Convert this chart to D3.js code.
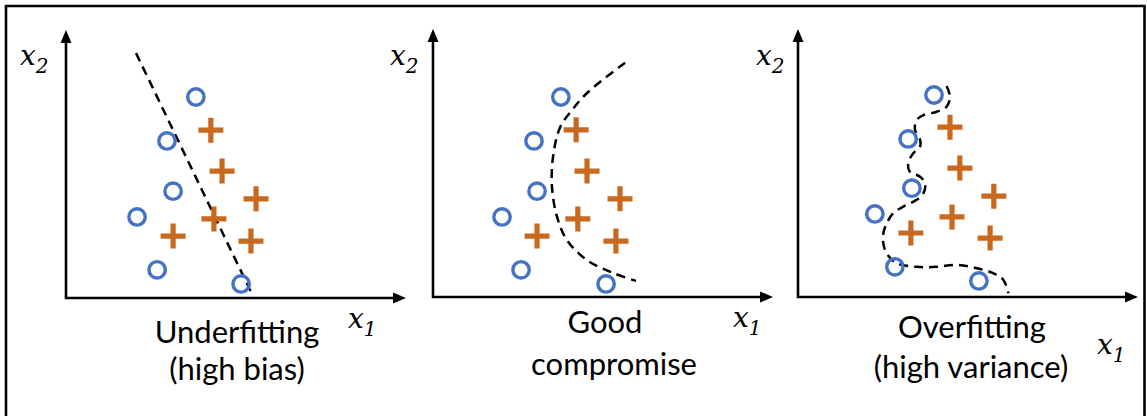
<!DOCTYPE html>
<html>
<head>
<meta charset="utf-8">
<script src="https://cdn.jsdelivr.net/npm/d3@7"></script>
<style>
  html, body { margin: 0; padding: 0; background: #fff; }
  svg { display: block; }
</style>
</head>
<body>
<svg id="chart" width="1147" height="416"></svg>
<script>
// ---- data (axis units: x 0..10, y 0..8) ----
const captionLines1 = ["Underfitting", "(high bias)"];
const captionLines2 = ["Good", "compromise"];
const captionLines3 = ["Overfitting", "(high variance)"];

const circles1 = [[3.82,6.0],[2.97,4.69],[3.15,3.19],[2.09,2.42],[2.68,0.84],[5.15,0.42]];
const pluses1  = [[4.26,5.01],[4.59,3.79],[5.59,2.96],[4.35,2.36],[3.15,1.85],[5.44,1.70]];
const boundary1 = [[2.06,7.31],[5.47,0.12]];

const circles2 = [[3.76,5.97],[2.97,4.66],[3.06,3.16],[2.03,2.39],[2.59,0.81],[5.09,0.39]];
const pluses2  = [[4.21,4.99],[4.53,3.76],[5.50,2.93],[4.26,2.33],[3.06,1.82],[5.38,1.67]];
const boundary2 = [[5.65,6.99],[4.53,6.09],[4.09,5.58],[3.74,5.07],[3.53,4.18],[3.50,3.28],
                   [3.65,2.39],[3.94,1.70],[4.53,1.10],[5.29,0.72],[5.97,0.48]];

const circles3 = [[4.0,6.03],[3.24,4.72],[3.35,3.25],[2.26,2.48],[2.85,0.90],[5.32,0.48]];
const pluses3  = [[4.47,5.07],[4.76,3.85],[5.76,3.01],[4.53,2.39],[3.32,1.91],[5.65,1.76]];
const boundary3 = [[4.37,6.30],[4.47,5.98],[4.37,5.68],[4.08,5.53],[3.69,5.43],[3.49,5.28],
                   [3.44,4.99],[3.59,4.69],[3.59,4.49],[3.39,4.29],[3.24,3.99],[3.29,3.74],
                   [3.59,3.59],[3.74,3.39],[3.69,3.10],[3.49,2.90],[3.10,2.70],[2.80,2.50],
                   [2.61,2.20],[2.51,1.90],[2.51,1.60],[2.61,1.30],[2.90,1.01],[3.49,0.90],
                   [4.08,0.90],[4.67,0.96],[5.26,0.86],[5.74,0.71],[6.04,0.51],[6.19,0.11]];

const xDomain = [0, 10];
const yDomain = [0, 8];

// ---- layout ----
const panels = [
  { ox: 66,  oy: 298, circles: circles1, pluses: pluses1, boundary: boundary1, curve: d3.curveLinear,
    caption: captionLines1, capX: [237, 237], capY: [343, 380],
    x2: [20, 65], x1: [348, 328] },
  { ox: 433, oy: 297, circles: circles2, pluses: pluses2, boundary: boundary2, curve: d3.curveCatmullRom,
    caption: captionLines2, capX: [605, 614], capY: [333, 375],
    x2: [390, 65], x1: [733, 327] },
  { ox: 798, oy: 297, circles: circles3, pluses: pluses3, boundary: boundary3, curve: d3.curveCatmullRom,
    caption: captionLines3, capX: [972, 971], capY: [338, 378],
    x2: [756, 65], x1: [1097, 354] }
];

const BLUE = "#4472C4";
const ORANGE = "#C9691F";

const svg = d3.select("#chart");

// outer frame
svg.append("path")
  .attr("d", "M6,420 L6,6 L1144.5,6 L1144.5,420")
  .attr("fill", "none").attr("stroke", "#000").attr("stroke-width", 2.6);

panels.forEach(p => {
  const x = d3.scaleLinear().domain(xDomain).range([p.ox, p.ox + 340]);
  const y = d3.scaleLinear().domain(yDomain).range([p.oy, p.oy - 268]);
  const g = svg.append("g");

  // axes
  const x0 = x(0), y0 = y(0), xEnd = x(10), yEnd = y(8);
  g.append("path")
    .attr("d", `M${x0},${yEnd + 10} L${x0},${y0} L${xEnd - 10},${y0}`)
    .attr("fill", "none").attr("stroke", "#000").attr("stroke-width", 2.6);
  g.append("path")
    .attr("d", `M${x0},${yEnd} L${x0 - 5.5},${yEnd + 13} L${x0 + 5.5},${yEnd + 13} Z`)
    .attr("fill", "#000");
  g.append("path")
    .attr("d", `M${xEnd},${y0} L${xEnd - 13},${y0 - 5.5} L${xEnd - 13},${y0 + 5.5} Z`)
    .attr("fill", "#000");

  // boundary
  g.append("path")
    .datum(p.boundary)
    .attr("d", d3.line().x(d => x(d[0])).y(d => y(d[1])).curve(p.curve))
    .attr("fill", "none").attr("stroke", "#000").attr("stroke-width", 2.5)
    .attr("stroke-dasharray", "9,6");

  // circles
  g.selectAll("circle.c").data(p.circles).join("circle")
    .attr("cx", d => x(d[0])).attr("cy", d => y(d[1])).attr("r", 8.2)
    .attr("fill", "none").attr("stroke", BLUE).attr("stroke-width", 3.4);

  // pluses
  g.selectAll("path.p").data(p.pluses).join("path")
    .attr("d", d => {
      const cx = x(d[0]), cy = y(d[1]), h = 12.5;
      return `M${cx - h},${cy} L${cx + h},${cy} M${cx},${cy - h} L${cx},${cy + h}`;
    })
    .attr("stroke", ORANGE).attr("stroke-width", 5.2).attr("fill", "none");

  // axis labels
  const lab = (pos, sub) => {
    const t = g.append("text")
      .attr("x", pos[0]).attr("y", pos[1])
      .attr("font-family", "'DejaVu Serif', serif").attr("font-style", "italic")
      .attr("font-size", 28).attr("fill", "#000");
    t.append("tspan").text("x");
    t.append("tspan").attr("font-size", 20).attr("dy", 8).text(sub);
  };
  lab(p.x2, "2");
  lab(p.x1, "1");

  // caption
  p.caption.forEach((line, i) => {
    g.append("text")
      .attr("x", p.capX[i]).attr("y", p.capY[i])
      .attr("text-anchor", "middle")
      .attr("font-family", "Lato, 'Open Sans', sans-serif")
      .attr("font-size", 31).attr("fill", "#000")
      .text(line);
  });
});
</script>
</body>
</html>
